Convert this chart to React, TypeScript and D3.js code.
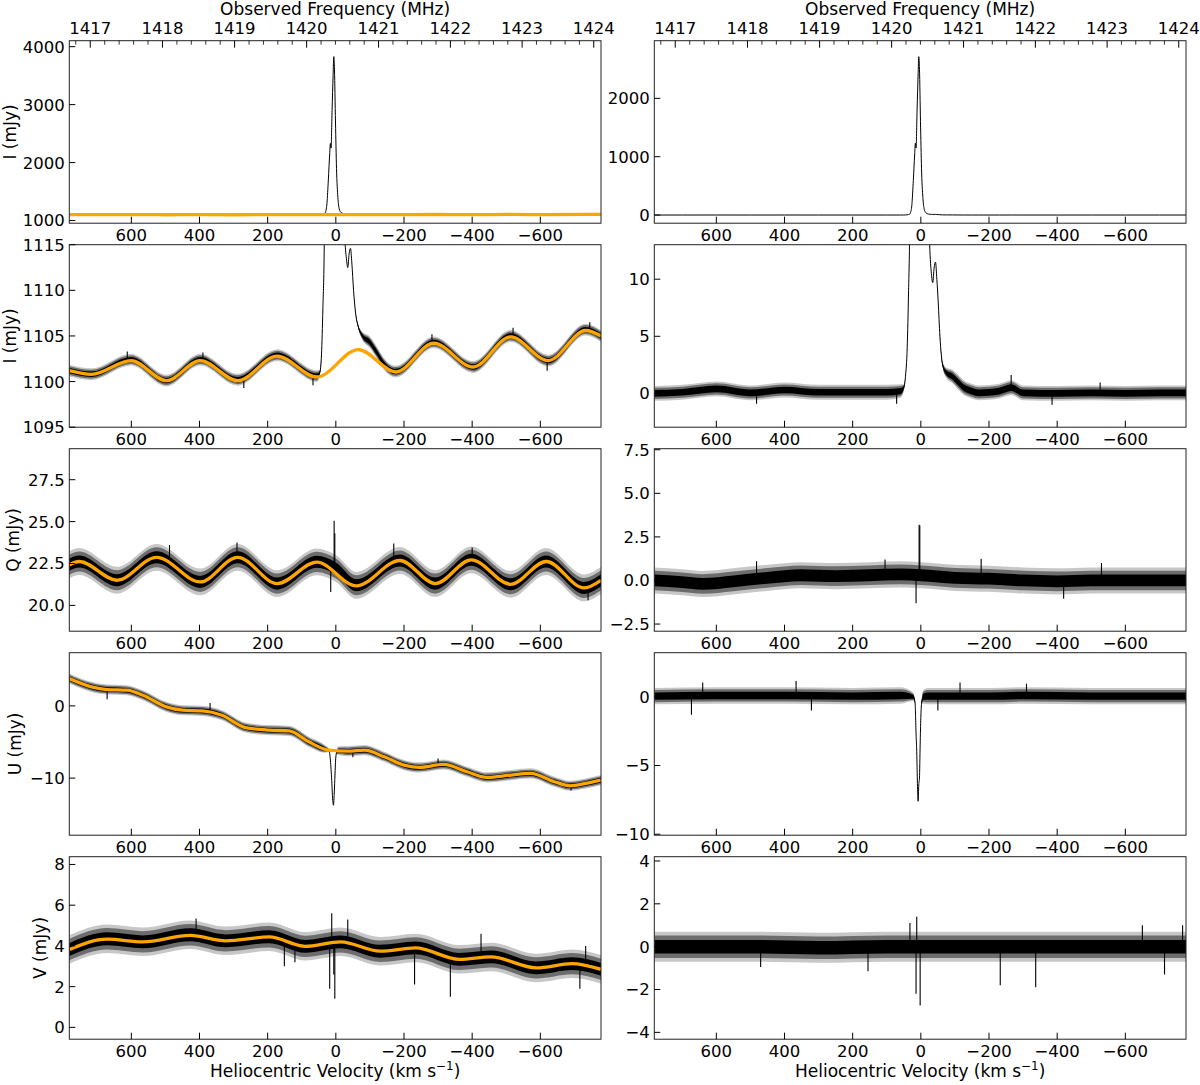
import React from "react";
import * as d3 from "d3";

// ---------------- data ----------------
// point: [heliocentric velocity (km/s), flux (mJy), noise half-range (mJy)]
type Pt = [number, number, number];
// fit point: [velocity, flux]
type Fp = [number, number];
// single-channel outlier: [velocity, local level, tip value]
type Sp = [number, number, number];

const C_KMS = 299792.458;
const F0_MHZ = 1420.40575;
const VEL_DOMAIN: [number, number] = [782, -778];
const VEL_TICKS = [600, 400, 200, 0, -200, -400, -600];
const FREQ_MAJOR = [1417, 1418, 1419, 1420, 1421, 1422, 1423, 1424];

// Stokes I, observed spectrum
const I_TOTAL: Pt[] = [
  [782, 1101.2, 0.65], [717, 1100.8, 0.65], [601, 1102.4, 0.65], [497, 1100.1, 0.65],
  [398, 1102.4, 0.65], [288, 1100.2, 0.65], [172, 1102.9, 0.65], [56, 1100.6, 0.65],
  [47, 1101.0, 0.3], [42, 1103, 0.1], [38, 1108, 0], [34, 1115, 0], [30, 1150, 0],
  [26, 1300, 0], [22, 1700, 0], [18, 2150, 0], [16, 2330, 0], [14, 2250, 0],
  [11, 2900, 0], [8, 3500, 0], [6, 3828, 0], [4, 3600, 0], [1, 2700, 0],
  [-2, 1900, 0], [-6, 1400, 0], [-10, 1200, 0], [-15, 1140, 0], [-20, 1124, 0],
  [-26, 1116, 0], [-31, 1113.5, 0], [-35, 1112.5, 0], [-39, 1114, 0], [-43, 1114.6, 0],
  [-47, 1113, 0], [-52, 1110, 0], [-58, 1107.5, 0.1], [-66, 1106, 0.25], [-78, 1105, 0.45],
  [-100, 1104.3, 0.65], [-120, 1103.2, 0.65], [-140, 1102, 0.65], [-176, 1101.1, 0.65],
  [-287, 1104.3, 0.65], [-403, 1101.6, 0.65], [-513, 1105.0, 0.65], [-623, 1102.3, 0.65],
  [-733, 1105.7, 0.65], [-778, 1105.0, 0.65],
];
const I_FIT: Fp[] = [
  [782, 1101.2], [717, 1100.8], [601, 1102.3], [497, 1100.1], [398, 1102.3], [288, 1100.1],
  [172, 1102.8], [56, 1100.5], [-66, 1103.5], [-176, 1101.05], [-287, 1104.2], [-403, 1101.6],
  [-513, 1104.9], [-623, 1102.3], [-733, 1105.6], [-778, 1105.0],
];
const I_SPIKES: Sp[] = [
  [612, 1102.4, 1103.3], [390, 1102.3, 1103.2], [270, 1100.2, 1099.3], [67, 1100.8, 1099.6],
  [-282, 1104.3, 1105.2], [-520, 1104.9, 1105.9], [-620, 1102.3, 1101.2], [-745, 1105.6, 1106.5],
];
// Stokes I, residual (data - fit)
const I_RESID: Pt[] = [
  [782, 0, 0.65], [700, 0.1, 0.65], [600, 0.4, 0.65], [500, 0.05, 0.65], [400, 0.3, 0.65],
  [300, 0.1, 0.65], [200, 0.1, 0.65], [100, 0.1, 0.65], [60, 0.2, 0.6], [50, 0.5, 0.3],
  [45, 1.5, 0.1], [40, 4, 0], [36, 9, 0], [33, 14, 0], [30, 45, 0], [26, 195, 0],
  [22, 595, 0], [18, 1045, 0], [16, 1230, 0], [14, 1150, 0], [11, 1800, 0], [8, 2400, 0],
  [6, 2714, 0], [4, 2500, 0], [1, 1600, 0], [-2, 800, 0], [-6, 300, 0], [-10, 100, 0],
  [-15, 38, 0], [-20, 21, 0], [-26, 13, 0], [-31, 10.5, 0], [-35, 9.7, 0], [-39, 11, 0],
  [-43, 11.5, 0], [-47, 10, 0], [-51, 8, 0], [-56, 5, 0.1], [-64, 2.5, 0.25], [-75, 1.8, 0.45],
  [-92, 1.5, 0.6], [-109, 1.0, 0.65], [-126, 0.5, 0.65], [-149, 0.2, 0.65], [-170, 0.05, 0.65],
  [-230, 0.2, 0.65], [-265, 0.5, 0.65], [-300, 0.05, 0.65], [-400, 0, 0.65], [-500, 0.05, 0.65],
  [-600, 0, 0.65], [-700, 0.05, 0.65], [-778, 0.05, 0.65],
];
const I_RESID_SPIKES: Sp[] = [
  [-265, 0.5, 1.6], [482, 0.1, -0.9], [71, 0.1, -0.9], [-385, 0, -1.0], [-526, 0.05, 0.95],
];

// Stokes Q
const Q_DATA: Pt[] = [
  [782, 22.42, 0.8], [753, 22.62, 0.8], [642, 21.5, 0.8], [526, 22.87, 0.8], [398, 21.4, 0.8],
  [288, 22.87, 0.8], [172, 21.3, 0.8], [56, 22.6, 0.8], [0, 22.2, 0.8], [-60, 21.2, 0.8],
  [-188, 22.68, 0.8], [-292, 21.3, 0.8], [-397, 22.72, 0.8], [-513, 21.26, 0.8],
  [-617, 22.62, 0.8], [-728, 21.04, 0.8], [-778, 21.5, 0.8],
];
const Q_FIT: Fp[] = [
  [782, 22.42], [753, 22.62], [642, 21.5], [526, 22.87], [398, 21.4], [288, 22.87], [172, 21.3],
  [56, 22.58], [-60, 21.16], [-188, 22.68], [-292, 21.3], [-397, 22.72], [-513, 21.26],
  [-617, 22.62], [-728, 21.04], [-778, 21.5],
];
const Q_SPIKES: Sp[] = [
  [5, 22.4, 25.05], [3, 22.4, 24.3], [15, 22.2, 20.8], [290, 22.9, 23.75], [488, 22.8, 23.6],
  [-170, 22.6, 23.7], [-400, 22.7, 23.45], [-740, 21.1, 20.3],
];
const Q_RESID: Pt[] = [
  [782, 0, 0.75], [700, -0.1, 0.75], [640, -0.2, 0.75], [550, -0.05, 0.75], [450, 0.15, 0.75],
  [350, 0.3, 0.75], [250, 0.25, 0.75], [150, 0.3, 0.75], [60, 0.35, 0.75], [0, 0.3, 0.75],
  [-100, 0.15, 0.75], [-200, 0.1, 0.75], [-300, 0, 0.75], [-400, -0.05, 0.75], [-500, 0, 0.75],
  [-600, 0, 0.75], [-700, 0, 0.75], [-778, 0, 0.75],
];
const Q_RESID_SPIKES: Sp[] = [
  [5, 0.5, 3.2], [3, 0.5, 3.15], [14, 0.2, -1.3], [482, 0.1, 1.1], [105, 0.3, 1.2],
  [-177, 0.1, 1.25], [-419, -0.1, -1.05], [-530, 0, 1.0],
];

// Stokes U
const U_DATA: Pt[] = [
  [782, 3.78, 0.7], [717, 2.63, 0.7], [671, 2.26, 0.7], [613, 2.17, 0.7], [566, 1.47, 0.7],
  [497, -0.14, 0.7], [450, -0.6, 0.7], [392, -0.69, 0.7], [334, -1.29, 0.7], [265, -3.0, 0.7],
  [195, -3.36, 0.7], [137, -3.46, 0.7], [79, -4.98, 0.7], [30, -6.0, 0.5], [20, -6.15, 0.2],
  [16, -7.5, 0], [14, -8.8, 0], [12, -10.3, 0], [10, -12.4, 0], [8, -13.5, 0], [7, -13.75, 0],
  [5, -12.4, 0], [3, -10.2, 0], [1, -7.8, 0], [-2, -6.5, 0.2], [-8, -6.2, 0.6], [-37, -6.27, 0.7],
  [-84, -6.13, 0.7], [-142, -7.05, 0.7], [-200, -8.2, 0.7], [-246, -8.52, 0.7],
  [-316, -8.11, 0.7], [-385, -9.12, 0.7], [-443, -9.9, 0.7], [-513, -9.58, 0.7],
  [-571, -9.35, 0.7], [-641, -10.5, 0.7], [-687, -11.06, 0.7], [-733, -10.74, 0.7],
  [-778, -10.28, 0.7],
];
const U_FIT: Fp[] = [
  [782, 3.78], [717, 2.63], [671, 2.26], [613, 2.17], [566, 1.47], [497, -0.14], [450, -0.6],
  [392, -0.69], [334, -1.29], [265, -3.0], [195, -3.36], [137, -3.46], [79, -4.98], [21, -6.13],
  [-37, -6.27], [-84, -6.13], [-142, -7.05], [-200, -8.2], [-246, -8.52], [-316, -8.11],
  [-385, -9.12], [-443, -9.9], [-513, -9.58], [-571, -9.35], [-641, -10.5], [-687, -11.06],
  [-733, -10.74], [-778, -10.28],
];
const U_SPIKES: Sp[] = [
  [671, 2.26, 0.9], [369, -0.8, 0.4], [-50, -6.2, -7.1], [-300, -8.1, -7.3], [-690, -11.0, -11.7],
];
const U_RESID: Pt[] = [
  [782, 0.05, 0.6], [600, 0.1, 0.6], [400, 0.1, 0.6], [200, 0.05, 0.6], [60, 0.1, 0.6],
  [22, 0, 0.3], [17, -0.4, 0.1], [14, -2.7, 0], [12, -4.0, 0], [10, -6.3, 0], [8, -7.6, 0],
  [6, -6.4, 0], [4, -5.9, 0], [2, -3.5, 0], [0, -1.5, 0], [-3, -0.3, 0.2], [-7, 0, 0.5],
  [-20, 0.05, 0.6], [-200, 0.05, 0.6], [-300, 0.1, 0.6], [-500, 0.05, 0.6], [-778, 0.05, 0.6],
];
const U_RESID_SPIKES: Sp[] = [
  [673, 0, -1.3], [366, 0.1, 1.15], [321, 0, -1.0], [-50, 0, -1.0], [-115, 0.1, 1.05],
  [640, 0.1, 1.05], [-310, 0.1, 0.95],
];

// Stokes V
const V_DATA: Pt[] = [
  [782, 3.82, 0.7], [671, 4.35, 0.7], [566, 4.2, 0.7], [427, 4.55, 0.7], [323, 4.25, 0.7],
  [195, 4.45, 0.7], [90, 3.98, 0.7], [-14, 4.2, 0.7], [-130, 3.74, 0.7], [-234, 3.9, 0.7],
  [-362, 3.34, 0.7], [-455, 3.46, 0.7], [-588, 2.92, 0.7], [-693, 3.13, 0.7], [-778, 2.85, 0.7],
];
const V_FIT: Fp[] = [
  [782, 3.82], [671, 4.33], [566, 4.2], [427, 4.52], [323, 4.25], [195, 4.44], [90, 3.98],
  [-14, 4.2], [-130, 3.74], [-234, 3.9], [-362, 3.34], [-455, 3.46], [-588, 2.92], [-693, 3.13],
  [-778, 2.85],
];
const V_SPIKES: Sp[] = [
  [12, 4.2, 5.6], [18, 4.2, 1.9], [6, 4.2, 2.6], [3, 4.2, 1.4], [-35, 4.1, 5.3],
  [-231, 3.9, 2.1], [-336, 3.5, 1.5], [151, 4.3, 3.0], [-716, 3.1, 1.9], [-426, 3.4, 4.6],
  [-733, 3.1, 4.0], [410, 4.5, 5.35], [120, 4.2, 3.2],
];
const V_RESID: Pt[] = [
  [782, 0, 0.7], [500, 0, 0.7], [300, -0.05, 0.7], [100, 0, 0.7], [0, 0, 0.7], [-300, 0, 0.7],
  [-600, 0, 0.7], [-778, 0, 0.7],
];
const V_RESID_SPIKES: Sp[] = [
  [12, 0, 1.4], [14, 0, -2.2], [2, 0, -2.75], [-233, 0, -1.8], [-337, 0, -1.9], [-715, 0, -1.3],
  [155, 0, -1.15], [32, 0, 1.1], [-768, 0, 1.0], [-650, 0, 1.0], [470, 0, -0.95],
];

// ---------------- layout ----------------
const W = 1200;
const H = 1085;
const COL_X = [69.3, 654.3];
const PANEL_W = 531.7;
const ROW_Y0 = 40.7;
const ROW_STEP = 204;
const PANEL_H = 182.5;
const TICK_FS = 16.5;
const LABEL_FS = 17;
const FONT = "'DejaVu Sans', sans-serif";
const ORANGE = "#FFA500";
// noise band layers: [fraction of noise half-range, opacity]
const BAND_LAYERS: [number, number][] = [
  [1, 0.22],
  [0.75, 0.45],
  [0.45, 1],
];

type PanelCfg = {
  row: number;
  col: number;
  data: Pt[];
  fit: Fp[] | null;
  spikes: Sp[];
  yDomain: [number, number];
  yTicks: number[];
  dec: number;
  ylabel?: string;
};

const PANELS: PanelCfg[] = [
  { row: 0, col: 0, data: I_TOTAL, fit: I_FIT, spikes: [], yDomain: [954, 4103], yTicks: [1000, 2000, 3000, 4000], dec: 0, ylabel: "I (mJy)" },
  { row: 0, col: 1, data: I_RESID, fit: null, spikes: [], yDomain: [-140, 2988], yTicks: [0, 1000, 2000], dec: 0 },
  { row: 1, col: 0, data: I_TOTAL, fit: I_FIT, spikes: I_SPIKES, yDomain: [1095, 1115], yTicks: [1095, 1100, 1105, 1110, 1115], dec: 0, ylabel: "I (mJy)" },
  { row: 1, col: 1, data: I_RESID, fit: null, spikes: I_RESID_SPIKES, yDomain: [-2.96, 13.02], yTicks: [0, 5, 10], dec: 0 },
  { row: 2, col: 0, data: Q_DATA, fit: Q_FIT, spikes: Q_SPIKES, yDomain: [18.46, 29.35], yTicks: [20, 22.5, 25, 27.5], dec: 1, ylabel: "Q (mJy)" },
  { row: 2, col: 1, data: Q_RESID, fit: null, spikes: Q_RESID_SPIKES, yDomain: [-2.91, 7.56], yTicks: [-2.5, 0, 2.5, 5, 7.5], dec: 1 },
  { row: 3, col: 0, data: U_DATA, fit: U_FIT, spikes: U_SPIKES, yDomain: [-17.9, 7.36], yTicks: [-10, 0], dec: 0, ylabel: "U (mJy)" },
  { row: 3, col: 1, data: U_RESID, fit: null, spikes: U_RESID_SPIKES, yDomain: [-10.07, 3.21], yTicks: [-10, -5, 0], dec: 0 },
  { row: 4, col: 0, data: V_DATA, fit: V_FIT, spikes: V_SPIKES, yDomain: [-0.58, 8.38], yTicks: [0, 2, 4, 6, 8], dec: 0, ylabel: "V (mJy)" },
  { row: 4, col: 1, data: V_RESID, fit: null, spikes: V_RESID_SPIKES, yDomain: [-4.32, 4.2], yTicks: [-4, -2, 0, 2, 4], dec: 0 },
];

const CHAR_W: Record<string, number> = { ".": 0.318, "\u2212": 0.838, "-": 0.361 };
const textWidth = (s: string, fs: number) =>
  s.split("").reduce((a, c) => a + (CHAR_W[c] ?? 0.636), 0) * fs;

const fmtTick = (v: number, dec: number) =>
  (dec ? d3.format(".1f")(v) : d3.format("d")(v)).replace("-", "\u2212");

const velOfFreq = (f: number) => C_KMS * (F0_MHZ / f - 1);

function Panel({ p }: { p: PanelCfg }) {
  const x0 = COL_X[p.col];
  const y0 = ROW_Y0 + p.row * ROW_STEP;
  const xs = d3.scaleLinear().domain(VEL_DOMAIN).range([x0, x0 + PANEL_W]);
  const ys = d3.scaleLinear().domain(p.yDomain).range([y0 + PANEL_H, y0]);
  const band = (k: number) =>
    d3
      .area<Pt>()
      .x((d) => xs(d[0]))
      .y0((d) => ys(d[1] - k * d[2]))
      .y1((d) => ys(d[1] + k * d[2]))
      .curve(d3.curveMonotoneX)(p.data) || "";
  const center =
    d3
      .line<Pt>()
      .x((d) => xs(d[0]))
      .y((d) => ys(d[1]))
      .curve(d3.curveMonotoneX)(p.data) || "";
  const fitPath = p.fit
    ? d3
        .line<Fp>()
        .x((d) => xs(d[0]))
        .y((d) => ys(d[1]))
        .curve(d3.curveMonotoneX)(p.fit) || ""
    : null;
  const clipId = `clip-${p.row}-${p.col}`;
  const labels = p.yTicks.map((t) => fmtTick(t, p.dec));
  const maxW = Math.max(...labels.map((l) => textWidth(l, TICK_FS)));
  const ylabelX = Math.max(x0 - 4.5 - maxW - 4.5 - 0.24 * LABEL_FS, 16);
  const yc = y0 + PANEL_H / 2;

  const isTop = p.row === 0;
  const isBottom = p.row === 4;
  const minorFreqs = d3
    .range(1416.8, 1424.05, 0.2)
    .filter((f) => Math.abs(f - Math.round(f)) > 0.01)
    .filter((f) => {
      const v = velOfFreq(f);
      return v <= VEL_DOMAIN[0] && v >= VEL_DOMAIN[1];
    });

  return (
    <g>
      <defs>
        <clipPath id={clipId}>
          <rect x={x0} y={y0} width={PANEL_W} height={PANEL_H} />
        </clipPath>
      </defs>
      <g clipPath={`url(#${clipId})`}>
        {BAND_LAYERS.map(([k, op], i) => (
          <path key={i} d={band(k)} fill="#000" fillOpacity={op} stroke="none" />
        ))}
        <path d={center} fill="none" stroke="#000" strokeWidth={1} />
        {p.spikes.map((s, i) => (
          <line key={i} x1={xs(s[0])} x2={xs(s[0])} y1={ys(s[1])} y2={ys(s[2])} stroke="#000" strokeWidth={1.1} />
        ))}
        {fitPath && <path d={fitPath} fill="none" stroke={ORANGE} strokeWidth={3.3} />}
      </g>
      <rect x={x0} y={y0} width={PANEL_W} height={PANEL_H} fill="none" stroke="#222" strokeWidth={1} />
      {p.yTicks.map((t, i) => (
        <g key={i}>
          <line x1={x0} x2={x0 + 6} y1={ys(t)} y2={ys(t)} stroke="#000" strokeWidth={1} />
          <text x={x0 - 4.5} y={ys(t)} dy="0.36em" textAnchor="end" fontSize={TICK_FS} fontFamily={FONT} fill="#000">
            {labels[i]}
          </text>
        </g>
      ))}
      {VEL_TICKS.map((t, i) => (
        <g key={i}>
          <line x1={xs(t)} x2={xs(t)} y1={y0 + PANEL_H} y2={y0 + PANEL_H - 6.5} stroke="#000" strokeWidth={1} />
          <text x={xs(t)} y={y0 + PANEL_H + 17.5} textAnchor="middle" fontSize={TICK_FS} fontFamily={FONT} fill="#000">
            {fmtTick(t, 0)}
          </text>
        </g>
      ))}
      {p.ylabel && (
        <text
          transform={`translate(${ylabelX},${yc}) rotate(-90)`}
          textAnchor="middle"
          fontSize={LABEL_FS}
          fontFamily={FONT}
          fill="#000"
        >
          {p.ylabel}
        </text>
      )}
      {isTop && (
        <g>
          {FREQ_MAJOR.map((f, i) => {
            const x = xs(velOfFreq(f));
            return (
              <g key={i}>
                <line x1={x} x2={x} y1={y0} y2={y0 + 7} stroke="#000" strokeWidth={1} />
                <text x={x} y={y0 - 6.7} textAnchor="middle" fontSize={TICK_FS} fontFamily={FONT} fill="#000">
                  {f}
                </text>
              </g>
            );
          })}
          {minorFreqs.map((f, i) => {
            const x = xs(velOfFreq(f));
            return <line key={i} x1={x} x2={x} y1={y0} y2={y0 + 4} stroke="#000" strokeWidth={0.8} />;
          })}
          <text x={x0 + PANEL_W / 2} y={14.8} textAnchor="middle" fontSize={LABEL_FS} fontFamily={FONT} fill="#000">
            Observed Frequency (MHz)
          </text>
        </g>
      )}
      {isBottom && (
        <text x={x0 + PANEL_W / 2} y={1077} textAnchor="middle" fontSize={LABEL_FS} fontFamily={FONT} fill="#000">
          Heliocentric Velocity (km s
          <tspan fontSize={LABEL_FS * 0.7} dy={-7}>
            {"\u22121"}
          </tspan>
          <tspan dy={7}>)</tspan>
        </text>
      )}
    </g>
  );
}

export default function App() {
  return (
    <svg
      width={W}
      height={H}
      viewBox={`0 0 ${W} ${H}`}
      style={{ position: "absolute", left: 0, top: 0, background: "#fff" }}
    >
      <rect x={0} y={0} width={W} height={H} fill="#fff" />
      {PANELS.map((p, i) => (
        <Panel key={i} p={p} />
      ))}
    </svg>
  );
}
